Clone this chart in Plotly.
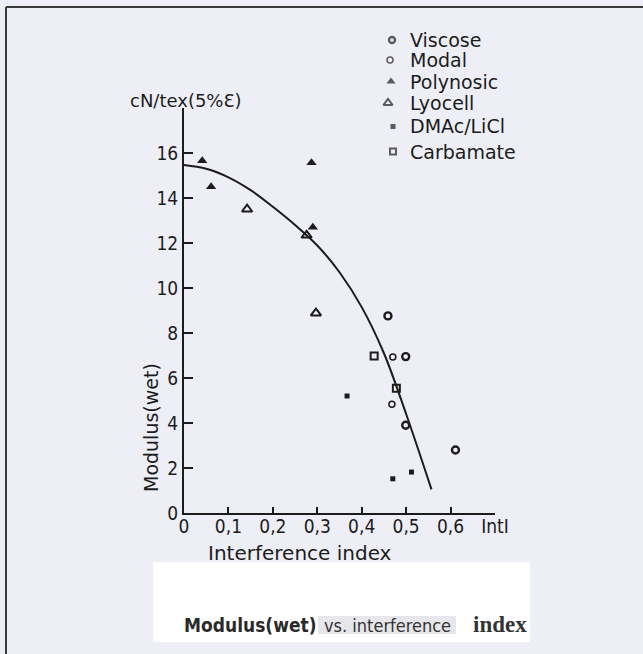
import plotly.graph_objects as go

W, H = 643, 654
INK = "#1c1c1c"
BG = "#eeeff6"
SANS = "DejaVu Sans"
COND = "DejaVu Sans Condensed"

# ---- data (interference index, wet modulus in cN/tex at 5% elongation) ----
viscose_x = [0.459, 0.499, 0.499, 0.611]
viscose_y = [8.76, 6.95, 3.90, 2.80]
modal_x = [0.470, 0.468]
modal_y = [6.93, 4.83]
polynosic_x = [0.041, 0.061, 0.287, 0.290]
polynosic_y = [15.66, 14.50, 15.57, 12.70]
lyocell_x = [0.142, 0.276, 0.297]
lyocell_y = [13.50, 12.34, 8.88]
dmac_x = [0.367, 0.512, 0.470]
dmac_y = [5.20, 1.82, 1.52]
carbamate_x = [0.428, 0.478]
carbamate_y = [6.98, 5.54]

# trend curve read along its length
curve_x = [0.0, 0.05, 0.10, 0.15, 0.20, 0.25, 0.30, 0.35, 0.40, 0.45, 0.50, 0.557]
curve_y = [15.47, 15.3, 14.92, 14.35, 13.61, 12.8, 11.89, 10.7, 9.15, 7.1, 4.4, 1.05]

x_ticks = [0, 0.1, 0.2, 0.3, 0.4, 0.5, 0.6, 0.7]
x_tick_text = ["0", "0,1", "0,2", "0,3", "0,4", "0,5", "0,6", "IntI"]
y_ticks = [0, 2, 4, 6, 8, 10, 12, 14, 16, 18]
y_tick_text = ["0", "2", "4", "6", "8", "10", "12", "14", "16", ""]

series = [
    ("Viscose", viscose_x, viscose_y, dict(symbol="circle-open", size=7, line=dict(width=2.4, color=INK))),
    ("Modal", modal_x, modal_y, dict(symbol="circle-open", size=6, line=dict(width=1.5, color=INK))),
    ("Polynosic", polynosic_x, polynosic_y, dict(symbol="triangle-up", size=9, color=INK)),
    ("Lyocell", lyocell_x, lyocell_y, dict(symbol="triangle-up-open", size=9, line=dict(width=2, color=INK))),
    ("DMAc/LiCl", dmac_x, dmac_y, dict(symbol="square", size=5, color=INK)),
    ("Carbamate", carbamate_x, carbamate_y, dict(symbol="square-open", size=7, line=dict(width=2, color=INK))),
]


def px(x):
    return x / W


def py(y):
    return 1 - y / H


fig = go.Figure()

fig.add_trace(go.Scatter(x=curve_x, y=curve_y, mode="lines",
                         line=dict(color=INK, width=2, shape="spline", smoothing=1.0),
                         showlegend=False, hoverinfo="skip"))

for name, xs, ys, mk in series:
    m = dict(mk)
    if "color" not in m:
        m["color"] = INK
    fig.add_trace(go.Scatter(x=xs, y=ys, mode="markers", name=name, marker=m,
                             showlegend=False))

# key column: symbols drawn on a page-sized overlay axis, labels as text
key_rows_y = [40, 60, 81.5, 103, 126.5, 151.5]
key_sym_x = [392, 390, 391, 388, 393, 393]
fig.add_trace(go.Scatter(
    x=key_sym_x, y=key_rows_y, mode="markers", xaxis="x2", yaxis="y2",
    marker=dict(
        symbol=[s[3]["symbol"] for s in series],
        size=[s[3]["size"] - (1 if s[3]["size"] > 6 else 0) for s in series],
        color=INK,
        line=dict(width=[s[3].get("line", {}).get("width", 0) for s in series], color=INK),
    ),
    showlegend=False, hoverinfo="skip"))

annotations = []
for (name, *_), ky in zip(series, key_rows_y):
    annotations.append(dict(x=px(408), y=py(ky), text=name, xanchor="left", yanchor="middle",
                            font=dict(family=SANS, size=19, color=INK)))

annotations += [
    dict(x=px(186), y=py(100), text="cN/tex(5%Ɛ)", font=dict(family=SANS, size=18, color=INK)),
    dict(x=px(300), y=py(553), text="Interference index", font=dict(family=SANS, size=20, color=INK)),
    dict(x=px(151), y=py(428), text="Modulus(wet)", textangle=-90,
         font=dict(family=SANS, size=19, color=INK)),
    dict(x=px(250), y=py(625), text="<b>Modulus(wet)</b>",
         font=dict(family=COND, size=19, color="#2a2a2a")),
    dict(x=px(387), y=py(625), text="vs. interference",
         font=dict(family=COND, size=18, color="#333333")),
    dict(x=px(500), y=py(624), text="<b>index</b>",
         font=dict(family="Liberation Serif", size=23, color="#333333")),
]
for a in annotations:
    a.setdefault("xref", "paper")
    a.setdefault("yref", "paper")
    a.setdefault("showarrow", False)
    a.setdefault("xanchor", "center")
    a.setdefault("yanchor", "middle")

shapes = [
    # page frame
    dict(type="line", xref="paper", yref="paper", x0=px(6), x1=px(6), y0=py(7), y1=py(654),
         line=dict(color="#3a3a3a", width=2)),
    dict(type="line", xref="paper", yref="paper", x0=px(6), x1=px(643), y0=py(7), y1=py(7),
         line=dict(color="#3a3a3a", width=2)),
    # caption panel
    dict(type="rect", xref="paper", yref="paper", x0=px(153), x1=px(530), y0=py(642), y1=py(562),
         fillcolor="white", line=dict(width=0), layer="below"),
    dict(type="rect", xref="paper", yref="paper", x0=px(318), x1=px(456), y0=py(634), y1=py(616),
         fillcolor="#e6e6eb", line=dict(width=0), layer="below"),
]

fig.update_layout(
    width=W, height=H, margin=dict(l=0, r=0, t=0, b=0, autoexpand=False),
    paper_bgcolor=BG, plot_bgcolor="rgba(0,0,0,0)",
    showlegend=False,
    annotations=annotations, shapes=shapes,
    xaxis=dict(domain=[px(184), px(495)], range=[0, 0.7], tickvals=x_ticks, ticktext=x_tick_text,
               ticks="inside", ticklen=6, tickwidth=1.5, tickcolor=INK, automargin=False,
               ticklabelstandoff=-5,
               showline=True, linewidth=2, linecolor=INK, showgrid=False, zeroline=False,
               tickfont=dict(family=COND, size=19, color=INK)),
    yaxis=dict(domain=[1 - 513 / H, 1 - 108 / H], range=[0, 18], tickvals=y_ticks, ticktext=y_tick_text,
               ticks="inside", ticklen=9, tickwidth=1.5, tickcolor=INK, automargin=False,
               showline=True, linewidth=2, linecolor=INK, showgrid=False, zeroline=False,
               tickfont=dict(family=COND, size=19, color=INK)),
    xaxis2=dict(domain=[0, 1], range=[0, W], visible=False, showticklabels=False,
                automargin=False, anchor="y2"),
    yaxis2=dict(domain=[0, 1], range=[H, 0], visible=False, showticklabels=False,
                automargin=False, anchor="x2"),
)

fig.write_html("out.html")
